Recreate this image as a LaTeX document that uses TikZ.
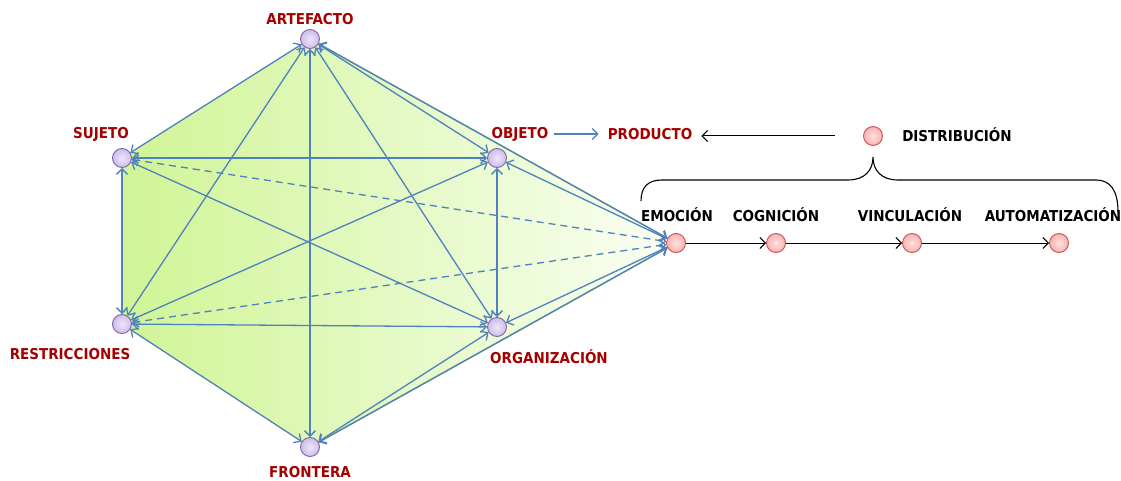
\documentclass[tikz,border=0pt]{standalone}
\usepackage{fontspec}
\setmainfont{DejaVu Sans Condensed}
\usetikzlibrary{arrows.meta,calc}

\definecolor{linkblue}{RGB}{79,129,189}
\definecolor{labred}{RGB}{165,0,0}
\definecolor{polyedge}{RGB}{155,187,89}
\definecolor{greenL}{RGB}{208,245,150}
\definecolor{greenR}{RGB}{250,254,243}
\definecolor{lilac}{RGB}{204,188,235}
\definecolor{lilacedge}{RGB}{128,100,162}
\definecolor{pinkfill}{RGB}{248,178,178}
\definecolor{pinkedge}{RGB}{200,80,77}

\tikzset{
  hexnode/.style={circle, minimum size=19pt, inner sep=0pt, draw=lilacedge, line width=0.9pt,
    inner color=lilac!35!white, outer color=lilac},
  stagenode/.style={circle, minimum size=19pt, inner sep=0pt, draw=pinkedge, line width=0.9pt,
    inner color=pinkfill!40!white, outer color=pinkfill},
  redlabel/.style={text=labred, font=\bfseries\fontsize{15}{17}\selectfont, inner sep=1pt},
  blacklabel/.style={text=black, font=\bfseries\fontsize{15}{17}\selectfont, inner sep=1pt},
  link/.style={draw=linkblue, line width=1.3pt,
    arrows={Straight Barb[length=5.5pt,width=11pt]-Straight Barb[length=5.5pt,width=11pt]}},
  dlink/.style={link, dash pattern=on 7pt off 5pt},
  stagearrow/.style={draw=black, line width=1pt, arrows={-Straight Barb[length=5.5pt,width=11pt]}},
}

\begin{document}
\begin{tikzpicture}[x=1pt,y=-1pt]
\useasboundingbox (0,0) rectangle (1121,481);

% positions of the six corners and of the first stage
\coordinate (pA) at (310,39);
\coordinate (pS) at (122,158);
\coordinate (pO) at (497,158);
\coordinate (pR) at (122,324);
\coordinate (pG) at (497,327);
\coordinate (pF) at (310,447);
\coordinate (pE) at (676,243);

% shaded area behind the network
\fill[left color=greenL, right color=greenR]
  (pA) -- (pE) -- (pF) -- (pR) -- (pS) -- cycle;
\draw[polyedge, line width=1.4pt] (pA) -- (pE) -- (pF);

% nodes
\node[hexnode] (A) at (pA) {};
\node[hexnode] (S) at (pS) {};
\node[hexnode] (O) at (pO) {};
\node[hexnode] (R) at (pR) {};
\node[hexnode] (G) at (pG) {};
\node[hexnode] (F) at (pF) {};
\node[stagenode] (E) at (pE) {};
\node[stagenode] (C) at (776,243) {};
\node[stagenode] (V) at (912,243) {};
\node[stagenode] (M) at (1059,243) {};
\node[stagenode] (D) at (873,136) {};

% links between the corners
\draw[link] (A) -- (S);
\draw[link] (A) -- (O);
\draw[link] (A) -- (R);
\draw[link] (A) -- (G);
\draw[link] (A) -- (F);
\draw[link] (S) -- (O);
\draw[link] (S) -- (R);
\draw[link] (S) -- (G);
\draw[link] (O) -- (R);
\draw[link] (O) -- (G);
\draw[link] (R) -- (G);
\draw[link] (R) -- (F);
\draw[link] (G) -- (F);
% links to the first stage
\draw[link] (A) -- (E);
\draw[link] (O) -- (E);
\draw[link] (G) -- (E);
\draw[link] (F) -- (E);
\draw[dlink] (S) -- (E);
\draw[dlink] (R) -- (E);

% labels
\node[redlabel] (lA) at (310,19) {ARTEFACTO};
\node[redlabel] (lS) at (101,134) {SUJETO};
\node[redlabel] (lO) at (520,134) {OBJETO};
\node[redlabel] (lP) at (650,134) {PRODUCTO};
\node[redlabel] (lR) at (70,354) {RESTRICCIONES};
\node[redlabel] (lG) at (549,357) {ORGANIZACIÓN};
\node[redlabel] (lF) at (310,472) {FRONTERA};
\node[blacklabel] (lD) at (957,135) {DISTRIBUCIÓN};
\node[blacklabel] (lE) at (677,215) {EMOCIÓN};
\node[blacklabel] (lC) at (776,215) {COGNICIÓN};
\node[blacklabel] (lV) at (910,215) {VINCULACIÓN};
\node[blacklabel] (lM) at (1053,215) {AUTOMATIZACIÓN};

% object to product
\draw[draw=linkblue, line width=1.2pt, arrows={-Straight Barb[length=5.5pt,width=11pt]},
  shorten <=4pt, shorten >=8pt] (lO.east) -- (lP.west);
% distribution to product
\draw[stagearrow, shorten <=28pt, shorten >=8pt] (D.west) -- (D.west -| lP.east);

% chain of stages
\draw[stagearrow] (E) -- (C);
\draw[stagearrow] (C) -- (V);
\draw[stagearrow] (V) -- (M);

% brace grouping the stages under distribution
\draw[line width=1.1pt, black]
  (641,201) .. controls (641,187) and (648,180) .. (662,180)
  -- (848,180) .. controls (865,180) and (873,170) .. (873,157)
  .. controls (873,170) and (881,180) .. (898,180)
  -- (1096,180) .. controls (1110,180) and (1118,190) .. (1118,212);
\end{tikzpicture}
\end{document}
